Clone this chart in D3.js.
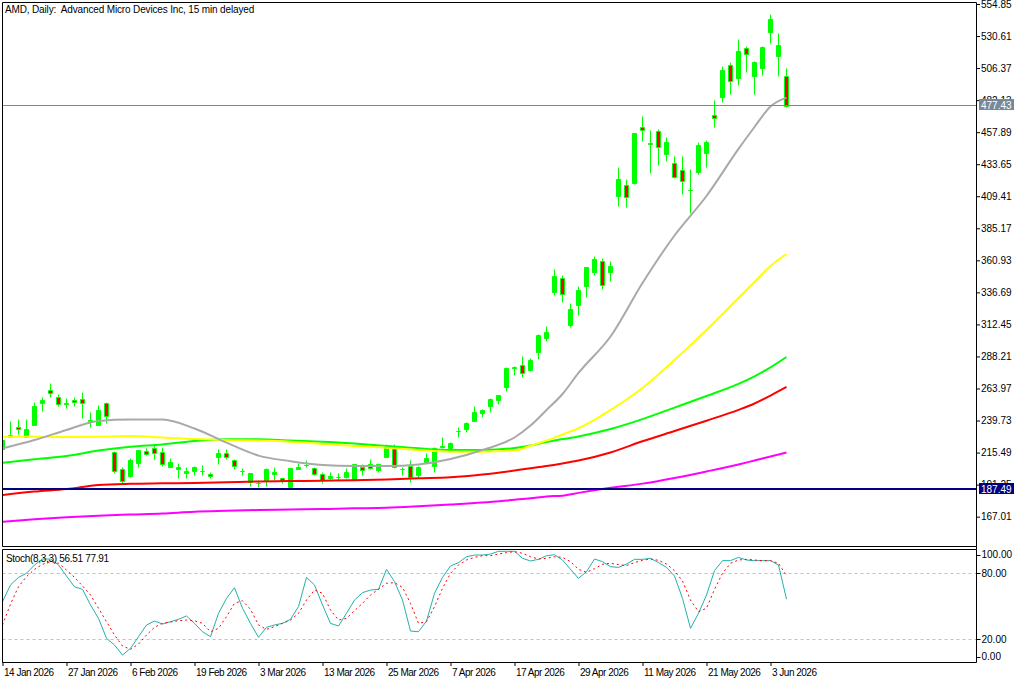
<!DOCTYPE html>
<html>
<head>
<meta charset="utf-8">
<script src="https://cdn.jsdelivr.net/npm/d3@7"></script>
<style>
  body { margin: 0; background: #fff; }
  svg text { font-family: "Liberation Sans", Arial, sans-serif; font-size: 10px; fill: #000; }
</style>
</head>
<body>
<svg id="chart" width="1024" height="683"></svg>
<script>
// daily bars, 14 Jan 2026 .. 5 Jun 2026
const open  = [218.2,227.5,235.1,227.5,236.4,252.8,262.8,257.8,252.9,255.3,255.8,239.5,236.4,252.8,216.2,202.8,197.8,207.8,216.7,218.7,
               216.2,204.8,202.8,199.8,201.6,201.6,199.1,212.4,215.4,209.9,201.8,193.5,192.6,194.0,199.1,196.0,189.7,203.1,206.0,203.6,
               199.1,196.0,197.1,196.8,195.3,204.8,206.6,202.3,212.4,218.7,202.9,205.3,198.5,208.6,205.3,219.6,218.7,231.8,233.1,239.6,
               245.2,250.7,255.3,265.3,279.5,281.7,278.0,291.8,302.4,337.2,347.3,312.0,327.1,341.7,352.3,360.7,352.3,409.8,417.9,419.2,
               461.6,449.9,458.8,441.4,434.3,429.3,414.0,428.0,441.9,470.9,484.7,508.7,499.1,521.3,500.6,506.7,533.9,515.7,500.4];
const high  = [227.0,239.4,240.9,240.6,254.0,257.8,267.9,259.5,256.8,257.8,261.3,246.4,251.5,253.5,216.7,204.8,211.1,217.6,219.2,222.0,
               219.5,211.1,207.4,204.8,205.3,206.1,201.0,218.2,218.0,210.4,203.6,200.0,194.7,203.6,204.8,196.5,204.0,207.4,209.9,204.8,
               201.0,201.0,200.3,203.6,206.8,206.8,210.4,207.8,222.0,222.0,204.8,209.9,205.3,214.9,219.5,227.5,223.7,234.8,238.9,250.7,
               248.2,256.5,259.1,280.0,281.2,288.6,287.3,305.0,311.2,354.4,349.8,328.4,341.5,356.0,364.2,362.5,360.4,431.8,422.5,457.5,
               470.1,459.5,460.1,454.5,439.9,439.9,429.8,450.7,452.0,482.2,507.9,511.2,528.2,523.1,511.5,523.3,547.3,533.2,506.2];
const low   = [216.0,227.0,229.5,227.5,236.0,247.2,257.3,250.7,249.2,250.7,241.9,235.1,236.0,237.6,199.8,192.2,197.2,204.8,213.7,210.4,
               205.6,204.6,196.0,196.0,198.5,198.5,196.0,206.8,210.4,202.8,198.5,190.4,189.7,190.2,194.7,192.2,189.2,202.9,204.3,198.5,
               192.7,195.8,194.7,196.6,194.7,198.5,202.8,201.0,211.9,203.6,198.5,193.5,197.2,207.8,201.0,218.7,217.4,227.5,231.3,239.4,
               242.6,246.4,252.3,262.3,274.2,272.9,277.4,286.3,300.1,334.7,329.6,310.7,319.6,333.4,349.8,339.2,345.3,402.3,401.5,418.7,
               451.4,426.8,433.1,436.1,423.4,411.1,396.5,426.2,431.8,462.0,480.9,486.8,493.6,503.6,486.8,501.1,525.1,500.4,476.7];
const close = [225.0,228.5,233.1,233.1,250.7,255.3,260.3,252.0,252.6,253.5,252.8,240.5,247.7,243.2,201.6,194.0,209.9,217.4,214.2,214.9,
               206.6,208.1,204.8,201.8,204.8,201.9,197.8,214.9,211.9,205.3,201.6,199.8,192.8,203.1,201.0,194.0,203.8,204.8,206.1,199.3,
               194.7,197.8,197.3,201.0,206.6,202.3,203.6,206.6,220.0,204.8,203.1,196.8,204.8,211.6,219.2,220.5,223.0,232.1,238.1,246.4,
               247.7,255.8,259.1,279.7,279.9,275.9,285.5,304.4,306.9,349.1,335.5,324.1,338.5,355.7,361.9,342.3,356.6,422.5,409.1,457.0,
               459.5,448.9,446.4,450.7,424.2,421.2,414.3,448.2,450.7,468.4,504.9,496.6,519.3,517.0,511.2,522.6,543.5,523.8,477.43];

// moving averages read at these bar indices
const maIdx     = [0,4,8,12,16,20,24,28,32,36,40,44,48,52,56,60,64,66,68,70,72,76,80,84,88,92,94,96,98];
const maGray    = [218.7,225.0,232.6,239.4,240.5,240.5,233.7,223.0,213.2,209.0,206.1,205.3,205.3,206.5,210.6,217.4,226.9,235.9,247.7,259.8,275.7,303.3,343.8,379.7,409.6,445.2,461.8,477.3,484.0];
const maYellow  = [227.5,227.4,227.3,227.5,228.0,226.9,225.8,225.0,224.6,223.7,222.0,220.5,219.2,217.4,216.2,216.2,217.0,220.6,224.6,229.2,233.9,247.7,264.3,285.5,308.2,332.4,344.5,356.6,365.7];
const maLime    = [207.8,210.4,212.9,217.0,219.9,221.6,224.2,225.5,225.6,224.6,223.7,222.3,220.5,218.7,217.4,217.4,218.9,220.8,223.4,225.7,227.7,233.3,240.8,249.5,258.3,267.5,273.2,280.0,287.8];
const maRed     = [183.4,186.0,187.9,191.0,191.9,192.2,192.5,193.0,193.6,193.9,194.2,194.6,195.1,196.0,196.8,198.9,201.9,203.6,205.3,207.3,209.5,215.6,224.0,231.8,239.6,247.8,252.6,258.6,265.1];
const maMagenta = [163.2,165.0,166.5,167.7,168.6,169.4,170.7,171.4,172.0,172.4,172.8,173.3,173.8,174.9,176.2,177.7,179.8,180.9,182.3,182.9,185.0,188.8,192.0,196.3,201.2,206.5,209.5,212.5,215.5];

// Stoch(8,3,3)
const stochMain   = [54.2,69.4,76.3,80.0,87.6,93.0,93.0,87.6,77.5,67.8,65.4,51.2,39.0,20.9,14.8,5.7,11.8,22.4,33.0,36.6,
                     33.9,36.0,38.2,41.2,34.5,26.9,22.4,43.6,57.2,66.9,48.2,34.5,21.8,30.9,33.0,34.5,38.2,49.7,76.3,69.4,
                     51.2,34.5,32.1,43.6,55.7,62.4,64.8,65.4,83.6,72.4,55.7,27.5,26.9,36.6,61.8,76.3,86.6,89.7,95.1,96.6,
                     96.6,97.5,100,100,100,93.6,91.2,92.7,96.0,96.9,92.1,83.6,75.4,81.5,93.0,90.6,86.0,85.4,88.4,92.7,
                     92.7,93.6,89.7,85.4,77.5,57.2,30.0,43.6,60.3,82.4,91.5,91.5,94.5,92.1,91.5,91.5,91.5,87.6,56.51];
const stochSignal = [33.0,52.1,67.8,77.0,83.6,88.2,90.6,89.1,83.0,76.3,68.5,60.3,48.2,36.0,23.9,13.9,10.9,15.7,23.9,30.9,
                     34.5,35.7,36.9,37.5,36.9,34.5,26.9,30.0,40.6,52.7,55.1,47.2,33.0,29.0,31.5,34.5,37.5,43.6,55.7,64.8,
                     61.8,46.6,37.5,39.0,46.0,52.7,60.3,65.4,70.9,71.5,67.2,52.7,34.5,36.0,49.7,66.3,80.0,87.6,92.1,94.5,
                     96.0,96.0,97.5,98.8,99.7,98.2,95.1,93.0,93.6,95.1,94.5,90.6,83.6,80.9,84.2,88.2,89.1,87.9,87.0,89.7,
                     91.8,93.0,91.8,88.4,82.4,73.0,55.7,45.1,48.2,65.4,80.0,89.1,92.1,92.7,92.1,91.5,91.5,89.1,77.91];

const priceTicks = [554.85,530.61,506.37,482.13,457.89,433.65,409.41,385.17,360.93,336.69,312.45,288.21,263.97,239.73,215.49,191.25,167.01];
const stochTicks = [100, 80, 20, 0];
const timeIdx    = [0,8,16,24,32,40,48,56,64,72,80,88,96];
const timeLabels = ["14 Jan 2026","27 Jan 2026","6 Feb 2026","19 Feb 2026","3 Mar 2026","13 Mar 2026","25 Mar 2026",
                    "7 Apr 2026","17 Apr 2026","29 Apr 2026","11 May 2026","21 May 2026","3 Jun 2026"];
const lastPrice = 477.43;
const levelPrice = 187.49;

const svg = d3.select("#chart");
const L = 2.5, R = 976.5, mainTop = 2.5, mainBot = 546.5, stTop = 549.5, stBot = 662.5;

const x = d3.scaleLinear().domain([0, 98]).range([2.5, 786.5]);
const y = d3.scaleLinear().domain([167.01, 554.85]).range([516.65, 4]);
const ys = d3.scaleLinear().domain([0, 100]).range([661.3, 551.3]);

const defs = svg.append("defs");
defs.append("clipPath").attr("id", "clipMain")
  .append("rect").attr("x", 3).attr("y", 3).attr("width", R - 3.5).attr("height", mainBot - 3.5);
defs.append("clipPath").attr("id", "clipStoch")
  .append("rect").attr("x", 3).attr("y", stTop + 0.5).attr("width", R - 3.5).attr("height", stBot - stTop - 1);

const main = svg.append("g").attr("clip-path", "url(#clipMain)");

// candles
const bars = d3.range(close.length);
const px = v => Math.round(y(v)) + 0.5;
main.append("g").selectAll("line").data(bars).join("line")
  .attr("x1", i => x(i)).attr("x2", i => x(i))
  .attr("y1", i => px(high[i])).attr("y2", i => px(low[i]))
  .attr("stroke", "#00ff00");
main.append("g").selectAll("path").data(bars).join("path")
  .attr("d", i => {
    const t = px(Math.max(open[i], close[i])), b = px(Math.min(open[i], close[i]));
    return `M${x(i) - 2},${t}H${x(i) + 2}V${b}H${x(i) - 2}Z`;
  })
  .attr("fill", i => close[i] >= open[i] ? "#00ff00" : "#ff0000")
  .attr("stroke", "#00ff00");

// moving averages
const maLine = d3.line().x(d => x(d[0])).y(d => y(d[1])).curve(d3.curveMonotoneX);
[[maMagenta, "#ff00ff"], [maRed, "#ff0000"], [maLime, "#00ff00"], [maYellow, "#ffff00"], [maGray, "#a9a9a9"]]
  .forEach(([vals, col]) => {
    main.append("path")
      .attr("d", maLine(maIdx.map((k, j) => [k, vals[j]])))
      .attr("fill", "none").attr("stroke", col).attr("stroke-width", 2);
  });

// horizontal lines
main.append("line").attr("x1", L).attr("x2", R).attr("y1", px(lastPrice) - 1).attr("y2", px(lastPrice) - 1)
  .attr("stroke", "#778899");
main.append("line").attr("x1", L).attr("x2", R).attr("y1", Math.round(y(levelPrice)) - 1).attr("y2", Math.round(y(levelPrice)) - 1)
  .attr("stroke", "#000080").attr("stroke-width", 2);

// stochastic
const st = svg.append("g").attr("clip-path", "url(#clipStoch)");
[80, 20].forEach(v => {
  st.append("line").attr("x1", L).attr("x2", R)
    .attr("y1", Math.round(ys(v)) + 0.5).attr("y2", Math.round(ys(v)) + 0.5)
    .attr("stroke", "#c0c0c0").attr("stroke-dasharray", "3,3");
});
const stLine = d3.line().x((d, i) => x(i)).y(d => ys(d));
st.append("path").attr("d", stLine(stochMain))
  .attr("fill", "none").attr("stroke", "#20b2aa").attr("stroke-width", 1);
st.append("path").attr("d", stLine(stochSignal))
  .attr("fill", "none").attr("stroke", "#ff0000").attr("stroke-width", 1).attr("stroke-dasharray", "2,3");

// frames
const frame = svg.append("g").attr("fill", "none").attr("stroke", "#000");
frame.append("path").attr("d", `M${L},${mainBot}V${mainTop}H${R}V${mainBot}H${L}`);
frame.append("path").attr("d", `M${L},${stBot}V${stTop}H${R}V${stBot}H${L}`);
frame.append("line").attr("x1", R).attr("x2", R).attr("y1", mainBot).attr("y2", stTop);

// price axis
const pAxis = svg.append("g").attr("transform", `translate(${R - 0.5},0)`)
  .call(d3.axisRight(y).tickValues(priceTicks).tickSize(4).tickPadding(1).tickFormat(d3.format(".2f")));
pAxis.select(".domain").remove();
pAxis.selectAll("text").attr("font-family", null).attr("font-size", null);
pAxis.selectAll("line").attr("stroke", "#000");

function priceTag(v, bg, dy) {
  const g = svg.append("g").attr("transform", `translate(979,${Math.round(y(v)) + dy})`);
  g.append("rect").attr("x", 0).attr("y", -6).attr("width", 35).attr("height", 11).attr("fill", bg);
  g.append("text").attr("x", 2).attr("y", 3.5).style("fill", "#fff").text(d3.format(".2f")(v));
}
priceTag(lastPrice, "#778899", -1);
priceTag(levelPrice, "#000080", -1);

// stoch axis
const sAxis = svg.append("g");
stochTicks.forEach(v => {
  const yy = Math.min(Math.max(ys(v), stTop + 5), stBot - 6);
  sAxis.append("line").attr("x1", R).attr("x2", R + 4).attr("y1", Math.round(yy) + 0.5).attr("y2", Math.round(yy) + 0.5)
    .attr("stroke", "#000");
  sAxis.append("text").attr("x", R + 5).attr("y", yy + 3.5).text(d3.format(".2f")(v));
});

// time axis
const tAxis = svg.append("g").attr("transform", `translate(0,${stBot - 0.5})`)
  .call(d3.axisBottom(x).tickValues(timeIdx).tickSize(4).tickFormat((d, k) => timeLabels[k]));
tAxis.select(".domain").remove();
tAxis.selectAll("text").attr("font-family", null).attr("font-size", null)
  .attr("text-anchor", "start").attr("x", 1).style("letter-spacing", "-0.5px");
tAxis.selectAll("line").attr("stroke", "#000");

// captions
svg.append("text").attr("x", 5).attr("y", 13).style("white-space", "pre").style("letter-spacing", "-0.15px")
  .text("AMD, Daily:  Advanced Micro Devices Inc, 15 min delayed");
svg.append("text").attr("x", 6).attr("y", 562).style("letter-spacing", "-0.3px")
  .text(`Stoch(8,3,3) ${stochMain[stochMain.length - 1].toFixed(2)} ${stochSignal[stochSignal.length - 1].toFixed(2)}`);
</script>
</body>
</html>
